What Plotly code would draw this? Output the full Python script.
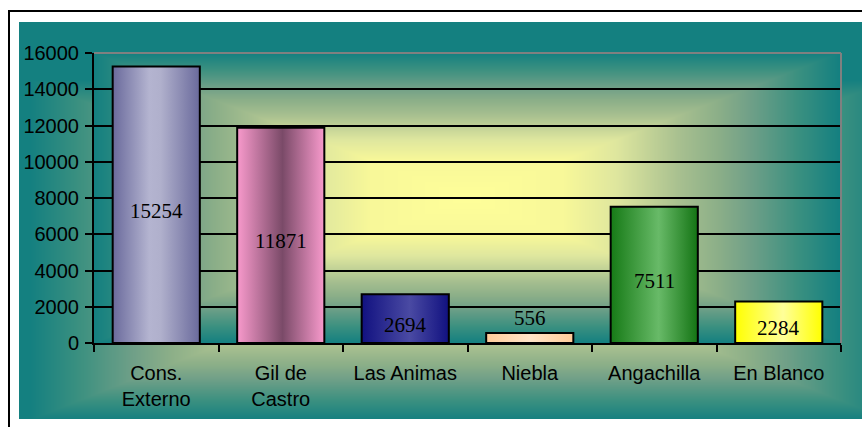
import numpy as np
import zlib, struct, base64
import plotly.graph_objects as go

# ---- data ----
categories = ["Cons.<br>Externo", "Gil de<br>Castro", "Las Animas", "Niebla", "Angachilla", "En Blanco"]
values = [15254, 11871, 2694, 556, 7511, 2284]
y_ticks = [0, 2000, 4000, 6000, 8000, 10000, 12000, 14000, 16000]
y_tick_text = ["0", "2000", "4000", "6000", "8000", "10000", "12000", "14000", "16000"]

# ---- styles ----
bar_scales = [
    [[0, "#6a6a9c"], [0.42, "#b4b4d0"], [0.55, "#b0b0cc"], [1, "#6a6a9c"]],
    [[0, "#f89acc"], [0.52, "#7a4a68"], [1, "#f89acc"]],
    [[0, "#111180"], [0.55, "#4a4aa3"], [1, "#111180"]],
    [[0, "#ffcc99"], [0.5, "#ffe4c8"], [1, "#ffcc99"]],
    [[0, "#167a16"], [0.55, "#68ba68"], [1, "#147414"]],
    [[0, "#ffff00"], [0.55, "#ffff99"], [1, "#ffff00"]],
]
grad_stops = [0.0, 0.26, 0.4, 0.57, 0.68, 0.76, 0.89, 1.0]
grad_cols = ["#ffff99", "#f8f899", "#dfe79f", "#a8c090", "#8aae88", "#70a088", "#3a9080", "#148080"]
BAR_W = 0.7
W, H = 862, 427
L, R, T, B = 94, 21, 53, 84
PW, PH = W - L - R, H - T - B


def png_uri(arr):
    h, w, _ = arr.shape
    raw = b"".join(b"\x00" + arr[r].tobytes() for r in range(h))

    def chunk(tag, data):
        c = struct.pack(">I", len(data)) + tag + data
        return c + struct.pack(">I", zlib.crc32(tag + data) & 0xFFFFFFFF)

    png = (b"\x89PNG\r\n\x1a\n"
           + chunk(b"IHDR", struct.pack(">IIBBBBB", w, h, 8, 2, 0, 0, 0))
           + chunk(b"IDAT", zlib.compress(raw, 9))
           + chunk(b"IEND", b""))
    return "data:image/png;base64," + base64.b64encode(png).decode()


def rect_gradient(w, h, cx, cy, hw, hh):
    yy, xx = np.mgrid[0:h, 0:w]
    t = np.maximum(np.abs(xx + 0.5 - cx) / hw, np.abs(yy + 0.5 - cy) / hh)
    t = np.clip(t, 0, 1)
    rgb = np.array([[int(c[i:i + 2], 16) for i in (1, 3, 5)] for c in grad_cols], dtype=float)
    img = np.stack([np.interp(t, grad_stops, rgb[:, k]) for k in range(3)], axis=-1).astype(np.uint8)
    return png_uri(np.ascontiguousarray(img))


# chart-area gradient (teal frame area)
bx0, by0, bx1, by1 = 19, 22, 862, 419
chart_uri = rect_gradient(bx1 - bx0, by1 - by0, 460 - bx0, 250 - by0, 430, 170)
# plot-area gradient
plot_uri = rect_gradient(PW, PH, 467 - L, 198 - T, 373, 145)


def px_x(p):
    return (p - L) / PW


def px_y(p):
    return (H - B - p) / PH


fig = go.Figure()
idx = list(range(len(values)))
for i, v in enumerate(values):
    fig.add_trace(go.Scatter(
        x=[i - BAR_W / 2, i - BAR_W / 2, i + BAR_W / 2, i + BAR_W / 2, i - BAR_W / 2],
        y=[0, v, v, 0, 0],
        mode="lines", fill="toself",
        fillgradient=dict(type="horizontal", colorscale=bar_scales[i]),
        line=dict(color="black", width=2),
        hoverinfo="skip", showlegend=False,
    ))

serif = "Liberation Serif, Times New Roman, serif"
sans = "Liberation Sans, Arial, sans-serif"
annotations = []
for i, v in enumerate(values):
    if v >= 1000:
        annotations.append(dict(x=i, y=v / 2, xref="x", yref="y", text=str(v), showarrow=False,
                                yshift=-6, font=dict(family=serif, size=21, color="black")))
    else:
        annotations.append(dict(x=i, y=v, xref="x", yref="y", text=str(v), showarrow=False,
                                yanchor="bottom", yshift=1, font=dict(family=serif, size=21, color="black")))

fig.update_layout(
    width=W, height=H,
    margin=dict(l=L, r=R, t=T, b=B, pad=0),
    paper_bgcolor="white", plot_bgcolor="rgba(0,0,0,0)",
    showlegend=False,
    annotations=annotations,
    xaxis=dict(
        type="linear", range=[-0.5, len(values) - 0.5],
        tickmode="array", tickvals=idx, ticktext=categories,
        ticks="", ticklabelstandoff=11,
        tickfont=dict(family=sans, size=20, color="black"),
        showgrid=False, zeroline=False,
        showline=True, linecolor="black", linewidth=2,
        minor=dict(tickmode="array", tickvals=[k - 0.5 for k in range(len(values) + 1)],
                   ticks="outside", ticklen=7, tickwidth=2, tickcolor="black", showgrid=False),
        fixedrange=True,
    ),
    yaxis=dict(
        range=[0, 16000], tickmode="array", tickvals=y_ticks, ticktext=y_tick_text,
        ticks="outside", ticklen=7, tickwidth=2, tickcolor="black",
        ticklabelstandoff=2,
        tickfont=dict(family=sans, size=20, color="black"),
        showgrid=True, gridcolor="black", gridwidth=2,
        zeroline=False, showline=True, linecolor="black", linewidth=2,
        fixedrange=True,
    ),
    images=[
        dict(source=chart_uri, xref="paper", yref="paper",
             x=px_x(bx0), y=px_y(by0), sizex=(bx1 - bx0) / PW, sizey=(by1 - by0) / PH,
             xanchor="left", yanchor="top", sizing="stretch", layer="below"),
        dict(source=plot_uri, xref="paper", yref="paper",
             x=0, y=1, sizex=1, sizey=1,
             xanchor="left", yanchor="top", sizing="stretch", layer="below"),
    ],
    shapes=[
        dict(type="line", xref="paper", yref="paper", x0=0, x1=1, y0=1, y1=1,
             line=dict(color="#808080", width=2)),
        dict(type="line", xref="paper", yref="paper", x0=1, x1=1, y0=0, y1=1,
             line=dict(color="#808080", width=2)),
        dict(type="rect", xref="paper", yref="paper",
             x0=px_x(9), x1=px_x(875), y0=px_y(440), y1=px_y(11),
             line=dict(color="black", width=2), layer="below"),
    ],
)

fig.write_html("out.html")
